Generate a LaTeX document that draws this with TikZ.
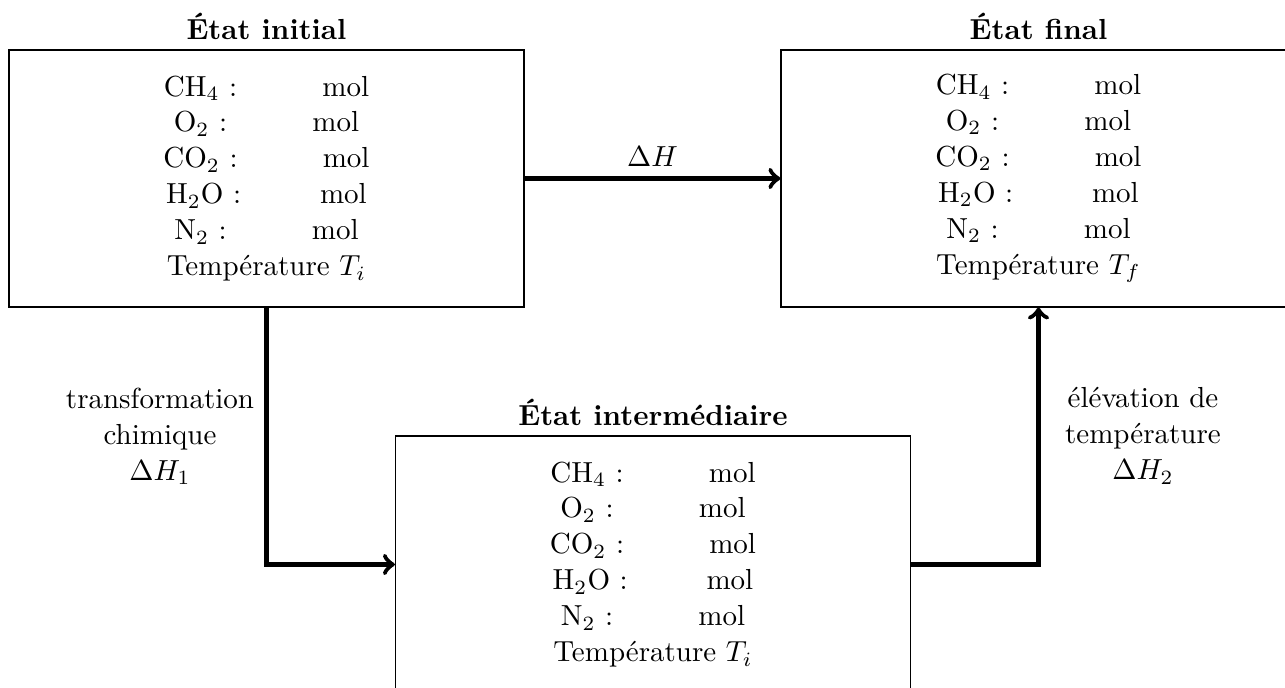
\documentclass[tikz,border=0pt]{standalone}
\usepackage{fontspec}
\newcommand{\molrow}[1]{#1 : \hspace{20.5pt} mol}
\newcommand{\etatcontent}[1]{\molrow{CH$_4$}\\\molrow{O$_2$}\\\molrow{CO$_2$}\\\molrow{H$_2$O}\\\molrow{N$_2$}\\Température $T_{#1}$}
\begin{document}
\begin{tikzpicture}[x=0.34483pt,y=-0.34483pt,
  box/.style={draw,line width=0.4pt,inner sep=0pt,align=center,minimum width=177.6pt,minimum height=88.6pt,font=\fontsize{10}{12.4}\selectfont},
  title/.style={font=\bfseries},
  conn/.style={->,ultra thick},
  lbl/.style={align=center,font=\fontsize{10}{12.4}\selectfont}]
\useasboundingbox (0,0) rectangle (1285,688);
\clip (0,0) rectangle (1285,688);

\node[box,label={[name=t1,title]above:État initial}] (ei) at (266.5,178.5) {\etatcontent{i}};
\node[box,label={[name=t2,title]above:État final}] (ef) at (1038.5,178.5) {\etatcontent{f}};
\node[box,label={[name=t3,title]above:État intermédiaire}] (em) at (653,564.5) {\etatcontent{i}};

\draw[conn] (ei.east) -- node[above,name=dh] {$\Delta H$} (ef.west);
\draw[conn] (ei.south) |- (em.west);
\draw[conn] (em.east) -| (ef.south);

\node[lbl] (l1) at (160,436) {transformation\\chimique\\$\Delta H_1$};
\node[lbl] (l2) at (1143,436) {élévation de\\température\\$\Delta H_2$};
\end{tikzpicture}
\end{document}
